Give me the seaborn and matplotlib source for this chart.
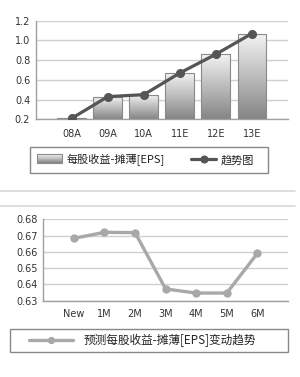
import numpy as np
import matplotlib
matplotlib.use("Agg")
import matplotlib.pyplot as plt
import seaborn as sns
from matplotlib.lines import Line2D
from matplotlib.patches import Rectangle
from matplotlib.legend_handler import HandlerBase

# ---- data ----
years = ["08A", "09A", "10A", "11E", "12E", "13E"]
eps = [0.21, 0.43, 0.45, 0.67, 0.86, 1.07]
months = ["New", "1M", "2M", "3M", "4M", "5M", "6M"]
forecast = [0.6683, 0.672, 0.6718, 0.6372, 0.6347, 0.6347, 0.6591]
top_ticks = [0.2, 0.4, 0.6, 0.8, 1.0, 1.2]
bot_ticks = [0.63, 0.64, 0.65, 0.66, 0.67, 0.68]
bar_label = "每股收益-摊薄[EPS]"
trend_label = "趋势图"
fc_label = "预测每股收益-摊薄[EPS]变动趋势"

sns.set_theme(style="white")
plt.rcParams["font.family"] = ["DejaVu Sans", "Noto Sans CJK SC"]
cjk = ["Noto Sans CJK SC", "DejaVu Sans"]

W, H = 300, 377
fig = plt.figure(figsize=(W / 100, H / 100), dpi=100)
fig.patch.set_facecolor("white")


def ax_rect(left, top, right, bottom):
    return [left / W, 1 - bottom / H, (right - left) / W, (bottom - top) / H]


grid_c = "#d0d0d0"
spine_c = "#a0a0a0"
txt_c = "#333333"


def style_axes(ax, ticks, xpad):
    ax.set_yticks(ticks)
    ax.yaxis.grid(True, color=grid_c, linewidth=1.0)
    ax.xaxis.grid(False)
    ax.set_axisbelow(True)
    for s in ["top", "right"]:
        ax.spines[s].set_visible(False)
    for s in ["left", "bottom"]:
        ax.spines[s].set_color(spine_c)
        ax.spines[s].set_linewidth(1.0)
    ax.tick_params(axis="y", length=3, width=1, color=spine_c, labelsize=7, labelcolor=txt_c, pad=1)
    ax.tick_params(axis="x", length=0, labelsize=7, labelcolor=txt_c, pad=xpad)
    ax.set_xlabel("")
    ax.set_ylabel("")


def frame_box(left, top, right, bottom):
    fig.add_artist(Rectangle((left / W, 1 - bottom / H), (right - left) / W, (bottom - top) / H,
                             facecolor="white", edgecolor="#888888", linewidth=1.0,
                             transform=fig.transFigure, zorder=1))


# ---- top chart ----
ax1 = fig.add_axes(ax_rect(35.7, 20.7, 288, 119.3))
sns.barplot(x=years, y=eps, ax=ax1, color="#bbbbbb", width=0.8,
            edgecolor="#8a8a8a", linewidth=0.8, zorder=2)
grad = np.linspace(0, 1, 256).reshape(-1, 1)
cmap = matplotlib.colors.LinearSegmentedColormap.from_list("g", ["#f4f4f4", "#858585"])
for p in list(ax1.patches):
    x0, y0 = p.get_x(), p.get_y()
    w, h = p.get_width(), p.get_height()
    p.set_facecolor("none")
    im = ax1.imshow(grad, extent=(x0, x0 + w, 0.2, y0 + h), cmap=cmap, aspect="auto",
                    zorder=2, origin="upper")
    im.set_clip_path(p)
    p.set_zorder(3)
sns.pointplot(x=years, y=eps, ax=ax1, color="#555555", markers="o",
              markersize=4.8, linewidth=2.3, zorder=5)
ax1.set_ylim(0.2, 1.2)
ax1.set_xlim(-1, 6)
style_axes(ax1, top_ticks, 7)
ax1.set_yticklabels([f"{t:.1f}" for t in top_ticks])


class GradHandler(HandlerBase):
    def create_artists(self, legend, orig, xd, yd, width, height, fontsize, trans):
        arts = []
        n = 12
        for i in range(n):
            c = cmap((i + 0.5) / n)
            r = Rectangle((xd, yd + height * (n - 1 - i) / n), width, height / n,
                          facecolor=c, edgecolor="none", transform=trans)
            arts.append(r)
        arts.append(Rectangle((xd, yd), width, height, facecolor="none",
                              edgecolor="#8a8a8a", linewidth=0.8, transform=trans))
        return arts


frame_box(30, 147, 268, 173)
bar_handle = Rectangle((0, 0), 1, 1)
line_handle = Line2D([], [], color="#555555", linewidth=2.3, marker="o", markersize=4.8)
leg1 = fig.legend([bar_handle, line_handle], [bar_label, trend_label],
                  handler_map={Rectangle: GradHandler()},
                  loc="center left", bbox_to_anchor=(37 / W, 1 - 160 / H),
                  ncol=2, frameon=False, prop={"family": cjk, "size": 8},
                  handlelength=2.25, handleheight=0.8, columnspacing=2.4,
                  handletextpad=0.4, borderpad=0, borderaxespad=0)
for t in leg1.get_texts():
    t.set_color("#222222")

# separator lines
for yy in [191, 205.7]:
    fig.add_artist(Line2D([0, 295 / W], [1 - yy / H, 1 - yy / H], color="#d8d8d8",
                          linewidth=1.2, transform=fig.transFigure))

# ---- bottom chart ----
ax2 = fig.add_axes(ax_rect(43.3, 219.3, 288, 300.7))
sns.pointplot(x=months, y=forecast, ax=ax2, color="#a8a8a8", markers="o",
              markersize=4.2, linewidth=2.4, zorder=5)
ax2.set_ylim(0.63, 0.68)
ax2.set_xlim(-1, 7)
style_axes(ax2, bot_ticks, 6)
ax2.set_yticklabels([f"{t:.2f}" for t in bot_ticks])

frame_box(10, 329.3, 288, 352.3)
fc_handle = Line2D([], [], color="#a8a8a8", linewidth=2.4, marker="o", markersize=4.2)
leg2 = fig.legend([fc_handle], [fc_label],
                  loc="center left", bbox_to_anchor=(29 / W, 1 - 340.8 / H),
                  ncol=1, frameon=False, prop={"family": cjk, "size": 8.4},
                  handlelength=3.8, handletextpad=0.85, borderpad=0, borderaxespad=0)
for t in leg2.get_texts():
    t.set_color("#222222")

fig.savefig("out.png", dpi=100, facecolor="white")
